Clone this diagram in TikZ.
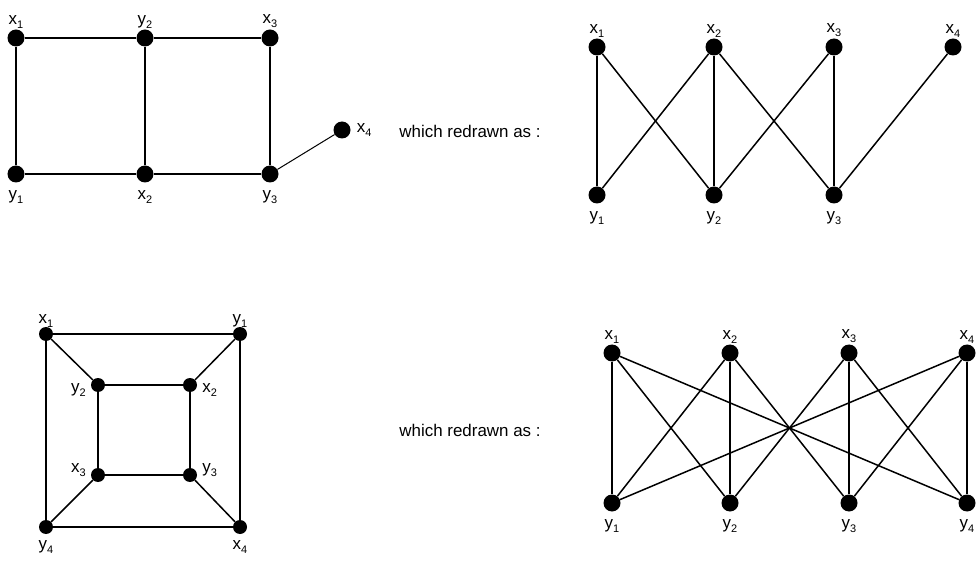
\documentclass[tikz,border=0pt]{standalone}
\usepackage{fontspec}
\setmainfont{Liberation Sans}
\newcommand{\vlab}[2]{#1\raisebox{-0.45ex}{\fontsize{11}{11}\selectfont #2}}
\begin{document}
\begin{tikzpicture}[x=1bp,y=-1bp,
  dot/.style={circle,fill=black,inner sep=0pt,minimum size=17bp},
  sdot/.style={circle,fill=black,inner sep=0pt,minimum size=14bp},
  edge/.style={line width=1.5bp},
  thin edge/.style={line width=1bp},
  every label/.style={font=\fontsize{17}{17}\selectfont,inner sep=1bp},
  every node/.append style={font=\fontsize{17}{17}\selectfont}]
\useasboundingbox (0,0) rectangle (977,561);

% first graph
\node [dot,label=above:{\vlab x1}] (ax1) at (16,38) {};
\node [dot,label=above:{\vlab y2}] (ay2) at (145,38) {};
\node [dot,label=above:{\vlab x3}] (ax3) at (270,38) {};
\node [dot,label={[yshift=-7bp]below:{\vlab y1}}] (ay1) at (16,174) {};
\node [dot,label={[yshift=-7bp]below:{\vlab x2}}] (ax2) at (145,174) {};
\node [dot,label={[yshift=-7bp]below:{\vlab y3}}] (ay3) at (270,174) {};
\node [dot,label={[xshift=5bp]right:{\vlab x4}}] (ax4) at (342,130) {};
\draw [edge] (ax1) -- (ay2) -- (ax3) -- (ay3) -- (ax2) -- (ay1) -- (ax1);
\draw [edge] (ay2) -- (ax2);
\draw [thin edge] (ay3) -- (ax4);

\node (txa) at (470,131) {which redrawn as :};

\foreach \i/\x in {1/597,2/714,3/834,4/953}{
\node [dot,label=above:{\vlab x\i}] (bx\i) at (\x,47) {};
}
\foreach \i/\x in {1/597,2/714,3/834}{
\node [dot,label={[yshift=-7bp]below:{\vlab y\i}}] (by\i) at (\x,195) {};
}
\foreach \a/\b in {1/1,1/2,2/1,2/2,2/3,3/2,3/3,4/3}{
\draw [edge] (bx\a) -- (by\b);
}

% second graph
\node [sdot,label={[yshift=-2bp]above:{\vlab x1}}] (cx1) at (46,334) {};
\node [sdot,label={[yshift=-2bp]above:{\vlab y1}}] (cy1) at (240,334) {};
\node [sdot,label={[shift={(-4bp,-5bp)}]left:{\vlab y2}}] (cy2) at (98,385) {};
\node [sdot,label={[shift={(4bp,-5bp)}]right:{\vlab x2}}] (cx2) at (190,385) {};
\node [sdot,label={[shift={(-4bp,5bp)}]left:{\vlab x3}}] (cx3) at (98,475) {};
\node [sdot,label={[shift={(4bp,5bp)}]right:{\vlab y3}}] (cy3) at (190,475) {};
\node [sdot,label={[yshift=-5bp]below:{\vlab y4}}] (cy4) at (46,527) {};
\node [sdot,label={[yshift=-5bp]below:{\vlab x4}}] (cx4) at (240,527) {};
\draw [edge] (cx1) -- (cy1) -- (cx4) -- (cy4) -- (cx1);
\draw [edge] (cy2) -- (cx2) -- (cy3) -- (cx3) -- (cy2);
\draw [edge] (cx1) -- (cy2);
\draw [edge] (cy1) -- (cx2);
\draw [edge] (cy4) -- (cx3);
\draw [edge] (cx4) -- (cy3);

\node (txb) at (470,430) {which redrawn as :};

\foreach \i/\x in {1/612,2/730,3/849,4/967}{
\node [dot,label=above:{\vlab x\i}] (dx\i) at (\x,353) {};
\node [dot,label={[yshift=-7bp]below:{\vlab y\i}}] (dy\i) at (\x,503) {};
}
\foreach \a/\b in {1/1,1/2,1/4,2/1,2/2,2/3,3/2,3/3,3/4,4/1,4/3,4/4}{
\draw [edge] (dx\a) -- (dy\b);
}
\end{tikzpicture}
\end{document}
